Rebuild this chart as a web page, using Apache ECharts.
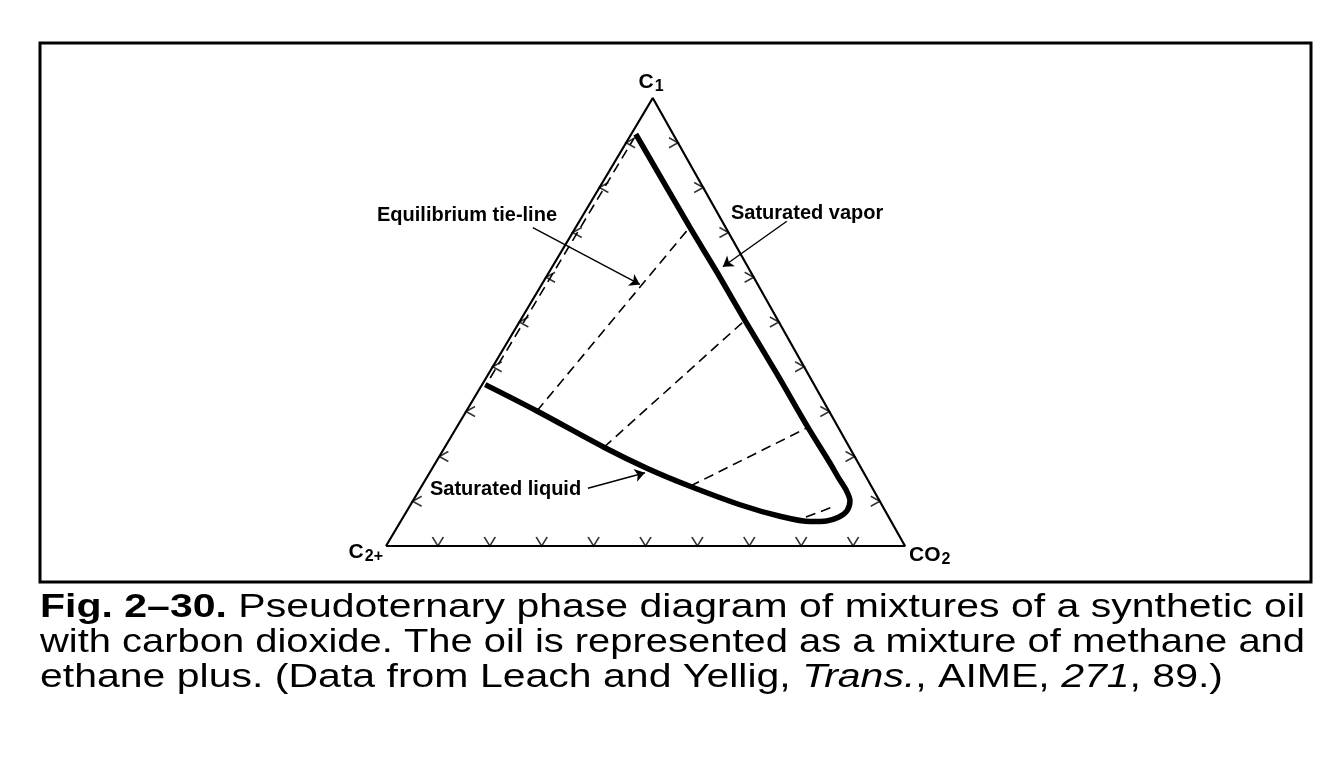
<!DOCTYPE html>
<html><head><meta charset="utf-8">
<script src="https://cdn.jsdelivr.net/npm/echarts@6/dist/echarts.min.js"></script>
<style>html,body{margin:0;padding:0;background:#fff}#c{width:1337px;height:777px}</style>
</head><body><div id="c"></div>
<script>
// ---- data (mole fractions) ----
// binodal curve, from the liquid end, around the plait region, up to the vapor end
const curveC1  = [0.3602, 0.3013, 0.2204, 0.1724, 0.1333, 0.0921, 0.0663, 0.0545, 0.0560, 0.0640, 0.0788, 0.1011, 0.1255, 0.1543, 0.1852, 0.2648, 0.3843, 0.5037, 0.6077, 0.7116, 0.9196];
const curveCO2 = [0.0060, 0.1359, 0.3066, 0.4161, 0.5172, 0.6347, 0.7251, 0.7900, 0.8200, 0.8390, 0.8477, 0.8420, 0.8218, 0.7915, 0.7602, 0.6769, 0.5557, 0.4326, 0.3271, 0.2196, 0.0086];
// equilibrium tie-lines: liquid end -> vapor end
const tieLiqC1  = [0.375, 0.3013, 0.2204, 0.1333, 0.0646];
const tieLiqCO2 = [0.008, 0.1359, 0.3066, 0.5172, 0.7760];
const tieVapC1  = [0.910, 0.7116, 0.5037, 0.2648, 0.0874];
const tieVapCO2 = [0.010, 0.2196, 0.4326, 0.6769, 0.8163];
// edge tick marks
const tickFractions = [0.1, 0.2, 0.3, 0.4, 0.5, 0.6, 0.7, 0.8, 0.9];
// annotation arrows (start C1, start CO2) -> (end C1, end CO2)
const annotationText = ['Equilibrium tie-line', 'Saturated vapor', 'Saturated liquid'];
const annotationFrom = [[0.7105, -0.0823], [0.7248, 0.3997], [0.1289, 0.3229]];
const annotationTo   = [[0.5838, 0.1891], [0.6234, 0.3286], [0.1635, 0.4149]];
// caption
const captionLines = [
  [['Fig. 2–30.', 'b'], [' Pseudoternary phase diagram of mixtures of a synthetic oil', 'r']],
  [['with carbon dioxide. The oil is represented as a mixture of methane and', 'r']],
  [['ethane plus. (Data from Leach and Yellig, ', 'r'], ['Trans.', 'i'], [', AIME, ', 'r'], ['271', 'i'], [', 89.)', 'r']]
];

// ---- ternary -> cartesian (x = CO2 + k*C1, y = C1) ----
const K = 0.514;
function tern(c1, co2) { return [co2 + K * c1, c1]; }

const curve = curveC1.map((a, i) => tern(a, curveCO2[i]));
const ties = tieLiqC1.map((a, i) => ({ coords: [tern(a, tieLiqCO2[i]), tern(tieVapC1[i], tieVapCO2[i])] }));
const arrows = annotationFrom.map((f, i) => ({ coords: [tern(f[0], f[1]), tern(annotationTo[i][0], annotationTo[i][1])] }));
const triangle = [tern(0, 0), tern(1, 0), tern(0, 1), tern(0, 0)];
const ticksBottom = tickFractions.map(f => tern(0, f));
const ticksRight  = tickFractions.map(f => tern(f, 1 - f));
const ticksLeft   = tickFractions.map(f => tern(f, 0));

const tickStyle = { color: 'rgba(0,0,0,0)', borderColor: '#000', borderWidth: 1.6 };

// caption layout
const FONT = '"Liberation Sans", Arial, sans-serif';
const CAP_SIZE = 33;
const ctx = document.createElement('canvas').getContext('2d');
function fontOf(k) { return (k === 'b' ? 'bold ' : k === 'i' ? 'italic ' : '') + CAP_SIZE + 'px ' + FONT; }
function lineWidth(segs) { let t = 0; segs.forEach(s => { ctx.font = fontOf(s[1]); t += ctx.measureText(s[0]).width; }); return t; }
const fullWidth = 1265;
const scale1 = fullWidth / lineWidth(captionLines[0]);
const scale2 = fullWidth / lineWidth(captionLines[1]);
const captionScales = [scale1, scale2, scale1];
const captionY = [608, 643, 678];
const captionGraphics = captionLines.map((segs, i) => ({
  type: 'text', x: 40, y: captionY[i], scaleX: captionScales[i], scaleY: 1,
  style: {
    text: segs.map(s => s[1] === 'r' ? s[0] : '{' + s[1] + '|' + s[0] + '}').join(''),
    fontFamily: FONT, fontSize: CAP_SIZE, fill: '#000', verticalAlign: 'middle', align: 'left',
    rich: { b: { fontWeight: 'bold', fontSize: CAP_SIZE, fontFamily: FONT }, i: { fontStyle: 'italic', fontSize: CAP_SIZE, fontFamily: FONT } }
  }
}));

const LBL = { fontFamily: FONT, fontWeight: 'bold', fontSize: 20, fill: '#000', verticalAlign: 'middle' };
const labelPos = [[377, 215], [731, 213], [430, 489]];
const labelGraphics = annotationText.map((t, i) => ({
  type: 'text', x: labelPos[i][0], y: labelPos[i][1], style: Object.assign({ text: t }, LBL)
}));

const vtxRich = { s: { fontSize: 16, fontWeight: 'bold', fontFamily: FONT, verticalAlign: 'bottom', padding: [10, 0, 0, 1] } };
const vtxBase = { rich: vtxRich, fontFamily: FONT, fontWeight: 'bold', fontSize: 21, fill: '#000', verticalAlign: 'middle' };
const vertexGraphics = [
  { type: 'text', x: 651, y: 82, style: Object.assign({ text: 'C{s|1}', align: 'center' }, vtxBase) },
  { type: 'text', x: 383, y: 552, style: Object.assign({ text: 'C{s|2+}', align: 'right' }, vtxBase) },
  { type: 'text', x: 909, y: 555, style: Object.assign({ text: 'CO{s|2}', align: 'left' }, vtxBase) }
];

const chart = echarts.init(document.getElementById('c'), null, { renderer: 'canvas' });
chart.setOption({
  backgroundColor: '#fff',
  animation: false,
  grid: { left: 386, top: 98, width: 519, height: 448 },
  xAxis: { type: 'value', min: 0, max: 1, show: false },
  yAxis: { type: 'value', min: 0, max: 1, show: false },
  graphic: [
    { type: 'rect', shape: { x: 40, y: 43, width: 1271, height: 539 }, style: { fill: 'none', stroke: '#000', lineWidth: 3 } }
  ].concat(labelGraphics, vertexGraphics, captionGraphics),
  series: [
    { type: 'line', data: triangle, showSymbol: false, lineStyle: { color: '#000', width: 2.2 }, z: 3 },
    { type: 'line', data: curve, showSymbol: false, smooth: 0.3, lineStyle: { color: '#000', width: 5.5 }, z: 4 },
    { type: 'lines', coordinateSystem: 'cartesian2d', data: ties, lineStyle: { color: '#000', width: 1.6, type: [10, 6], opacity: 1 }, z: 2 },
    { type: 'lines', coordinateSystem: 'cartesian2d', data: arrows, symbol: ['none', 'arrow'], symbolSize: 10, lineStyle: { color: '#000', width: 1.4, opacity: 1 }, z: 5 },
    { type: 'scatter', data: ticksBottom, symbol: 'path://M0,0L5,8L10,0', symbolSize: [11, 9], symbolOffset: [0, -4.5], itemStyle: tickStyle, z: 3 },
    { type: 'scatter', data: ticksRight, symbol: 'path://M0,0L8,5L0,10', symbolSize: [9, 10], symbolOffset: [-4.5, 0], itemStyle: tickStyle, z: 3 },
    { type: 'scatter', data: ticksLeft, symbol: 'path://M8,0L0,5L8,10', symbolSize: [9, 10], symbolOffset: [4.5, 0], itemStyle: tickStyle, z: 3 }
  ]
});
</script></body></html>
